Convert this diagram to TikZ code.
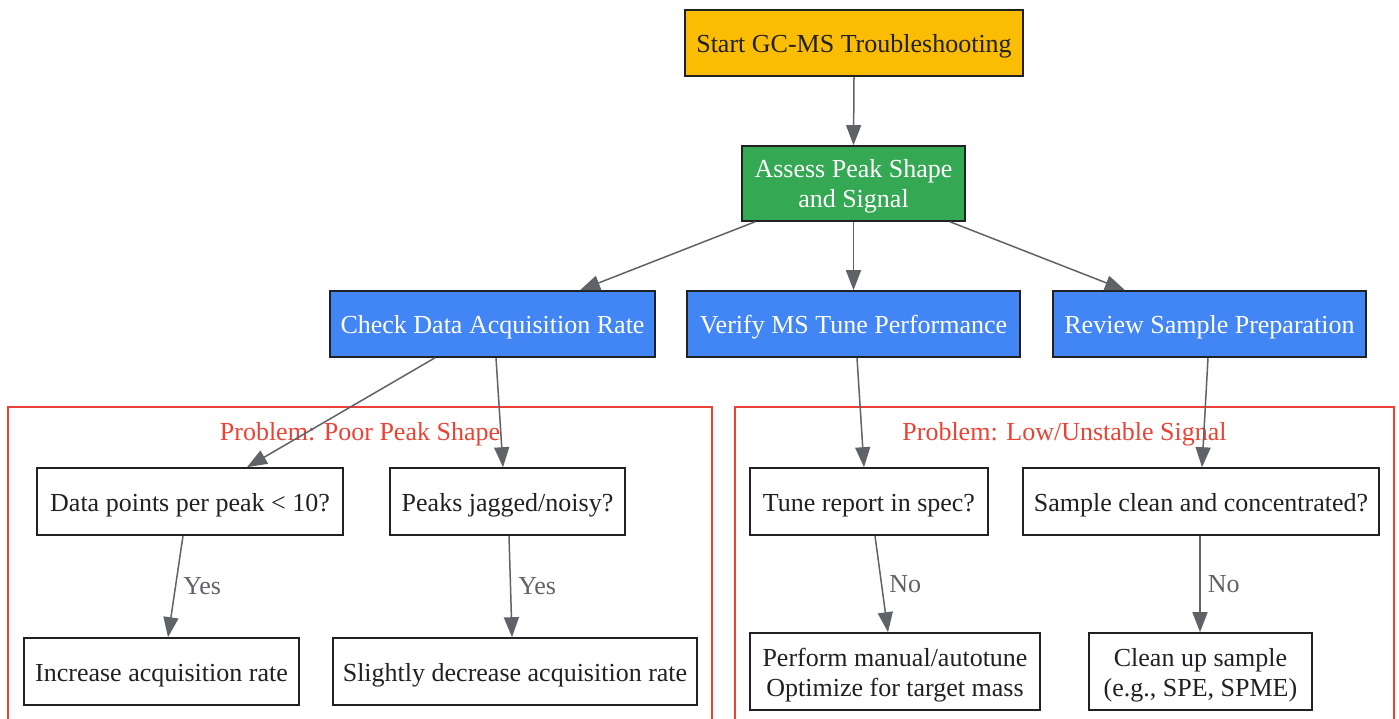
\documentclass[tikz,border=0pt]{standalone}
\usepackage{fontspec}
\setmainfont{Liberation Serif}
\usetikzlibrary{arrows.meta}
\definecolor{gyellow}{HTML}{FBBC04}
\definecolor{ggreen}{HTML}{34A853}
\definecolor{gblue}{HTML}{4285F4}
\definecolor{gred}{HTML}{EA4335}
\definecolor{ggray}{HTML}{5F6368}
\definecolor{gdark}{HTML}{202124}
\newcommand\mytopstrut{\rule{0pt}{25pt}}
\begin{document}
\begin{tikzpicture}[x=1pt,y=-1pt,
  box/.style={draw=gdark, line width=1.6pt, inner sep=0pt, align=center,
    font=\fontsize{26}{30}\selectfont, text=gdark, fill=white,
    execute at begin node={\rule{0pt}{25pt}},
    execute at end node={\rule[-6pt]{0pt}{6pt}}},
  startbox/.style={box, fill=gyellow},
  greenbox/.style={box, fill=ggreen, text=white},
  bluebox/.style={box, fill=gblue, text=white},
  cluster/.style={draw=gred, line width=1.5pt},
  clusterlabel/.style={text=gred, inner sep=0pt, font=\fontsize{26}{30}\selectfont},
  edge/.style={draw=ggray, line width=1.5pt, -{Triangle[length=20pt,width=15pt]}},
  elabel/.style={text=ggray, inner sep=0pt, font=\fontsize{26}{30}\selectfont, anchor=west, xshift=7pt}
]
\clip (0,0) rectangle (1399,719);
\fill[white] (0,0) rectangle (1399,719);

% clusters
\draw[cluster] (8,407) rectangle (712,724);
\draw[cluster] (735,407) rectangle (1394,724);
\node[clusterlabel] (cl1) at (360,434) {Problem: Poor Peak Shape};
\node[clusterlabel] (cl2) at (1064.5,434) {Problem: Low/Unstable Signal};

% nodes
\node[startbox, minimum width=338pt, minimum height=66pt] (start) at (854,43) {Start GC-MS Troubleshooting};
\node[greenbox, minimum width=223pt, minimum height=75pt] (assess) at (853.5,183.5) {\mytopstrut Assess Peak Shape\\and Signal};
\node[bluebox, minimum width=325pt, minimum height=66pt] (check) at (492.5,324) {Check Data Acquisition Rate};
\node[bluebox, minimum width=333pt, minimum height=66pt] (verify) at (853.5,324) {Verify MS Tune Performance};
\node[bluebox, minimum width=313pt, minimum height=66pt] (review) at (1209.5,324) {Review Sample Preparation};

\node[box, minimum width=306pt, minimum height=67pt] (dp) at (190,501.5) {Data points per peak < 10?};
\node[box, minimum width=235pt, minimum height=67pt] (jag) at (507.5,501.5) {Peaks jagged/noisy?};
\node[box, minimum width=275pt, minimum height=67pt] (inc) at (161.5,671.5) {Increase acquisition rate};
\node[box, minimum width=364pt, minimum height=67pt] (dec) at (515,671.5) {Slightly decrease acquisition rate};

\node[box, minimum width=238pt, minimum height=67pt] (tune) at (869,501.5) {Tune report in spec?};
\node[box, minimum width=356pt, minimum height=67pt] (samp) at (1201,501.5) {Sample clean and concentrated?};
\node[box, minimum width=290pt, minimum height=77pt] (perf) at (895,671.5) {\mytopstrut Perform manual/autotune\\Optimize for target mass};
\node[box, minimum width=223pt, minimum height=77pt] (clean) at (1200.5,671.5) {\mytopstrut Clean up sample\\(e.g., SPE, SPME)};

% edges
\draw[edge] (start.south) -- (assess.north);
\draw[edge] ([xshift=-98.5pt]assess.south) -- ([xshift=87.5pt]check.north);
\draw[edge] (assess.south) -- (verify.north);
\draw[edge] ([xshift=96.5pt]assess.south) -- ([xshift=-84.5pt]review.north);

\draw[edge] ([xshift=-57.5pt]check.south) -- ([xshift=57pt]dp.north);
\draw[edge] ([xshift=3.5pt]check.south) -- ([xshift=-4.5pt]jag.north);
\draw[edge] ([xshift=3.5pt]verify.south) -- ([xshift=-5pt]tune.north);
\draw[edge] ([xshift=-1.5pt]review.south) -- ([xshift=1pt]samp.north);

\draw[edge] ([xshift=-7pt]dp.south) -- node[elabel] {Yes} ([xshift=6.5pt]inc.north);
\draw[edge] ([xshift=1.5pt]jag.south) -- node[elabel] {Yes} ([xshift=-3pt]dec.north);
\draw[edge] ([xshift=6pt]tune.south) -- node[elabel] {No} ([xshift=-7pt]perf.north);
\draw[edge] ([xshift=-1pt]samp.south) -- node[elabel] {No} ([xshift=-0.5pt]clean.north);
\end{tikzpicture}
\end{document}
